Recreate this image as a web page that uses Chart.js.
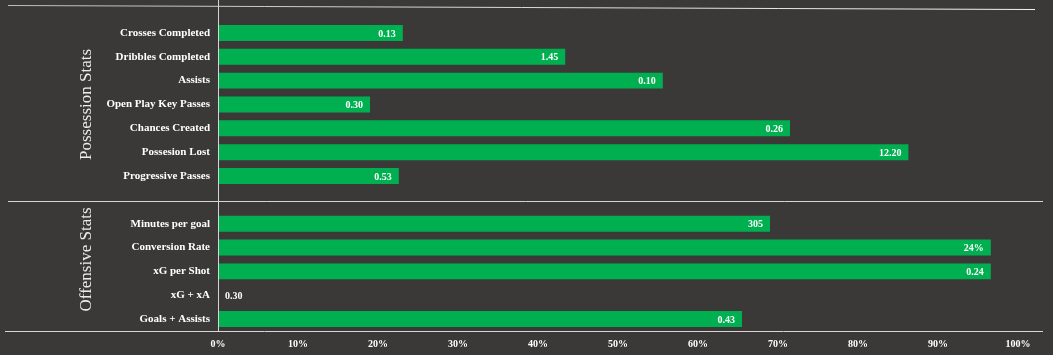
<!DOCTYPE html>
<html>
<head>
<meta charset="utf-8">
<script src="https://cdn.jsdelivr.net/npm/chart.js@4.4.0/dist/chart.umd.min.js"></script>
<style>
  html, body { margin: 0; padding: 0; background: #3b3938; }
  #wrap { width: 1053px; height: 355px; position: relative; }
</style>
</head>
<body>
<div id="wrap"><canvas id="c" width="1053" height="355"></canvas></div>
<script>
// ---- data ----
const categories = [
  "Crosses Completed", "Dribbles Completed", "Assists", "Open Play Key Passes",
  "Chances Created", "Possesion Lost", "Progressive Passes", "",
  "Minutes per goal", "Conversion Rate", "xG per Shot", "xG + xA", "Goals + Assists"
];
const barPercent = [23.1, 43.4, 55.6, 19.0, 71.5, 86.3, 22.6, null, 69.0, 96.6, 96.6, 0, 65.5];
const valueLabels = ["0.13", "1.45", "0.10", "0.30", "0.26", "12.20", "0.53", "", "305", "24%", "0.24", "0.30", "0.43"];
const groupNames = ["Possession Stats", "Offensive Stats"];
const groupCenters = [3, 9.5];      // category positions where the group titles sit
const separatorIndex = 7;           // empty category that holds the divider
const xTicks = [0, 10, 20, 30, 40, 50, 60, 70, 80, 90, 100];

const LINE_COLOR = "#d6d6d6";

const decor = {
  id: 'decor',
  afterDatasetsDraw(chart) {
    const ctx = chart.ctx;
    const ca = chart.chartArea;
    const y = chart.scales.y;
    const meta = chart.getDatasetMeta(0);
    ctx.save();
    // value labels
    ctx.font = "bold 10px 'Liberation Serif', serif";
    ctx.fillStyle = "#ffffff";
    ctx.textBaseline = "middle";
    meta.data.forEach((bar, i) => {
      const t = valueLabels[i];
      if (!t) return;
      if (barPercent[i] > 0) {
        ctx.textAlign = "right";
        ctx.fillText(t, bar.x - 7, bar.y + 1);
      } else {
        ctx.textAlign = "left";
        ctx.fillText(t, bar.x + 7, bar.y + 1);
      }
    });
    // lines
    ctx.strokeStyle = LINE_COLOR;
    ctx.lineWidth = 1;
    // vertical axis line
    ctx.beginPath();
    ctx.moveTo(ca.left + 0.5, 0);
    ctx.lineTo(ca.left + 0.5, ca.bottom);
    ctx.stroke();
    // top line
    const grad = ctx.createLinearGradient(8, 0, ca.right + 17, 0);
    grad.addColorStop(0, "#bdbdbd");
    grad.addColorStop(1, "#f4f4f4");
    ctx.strokeStyle = grad;
    ctx.beginPath();
    ctx.moveTo(8, ca.top - 15.5);
    ctx.lineTo(ca.right + 17, ca.top - 11.5);
    ctx.stroke();
    ctx.strokeStyle = LINE_COLOR;
    // middle separator
    const sy = Math.round(y.getPixelForValue(separatorIndex)) + 1.5;
    ctx.beginPath();
    ctx.moveTo(8, sy);
    ctx.lineTo(ca.right + 25, sy);
    ctx.stroke();
    // bottom line
    ctx.beginPath();
    ctx.moveTo(5, ca.bottom + 0.5);
    ctx.lineTo(ca.right + 25, ca.bottom + 0.5);
    ctx.stroke();
    // group titles
    ctx.font = "17px 'Liberation Serif', serif";
    ctx.fillStyle = "#ececec";
    ctx.textAlign = "center";
    ctx.textBaseline = "middle";
    groupNames.forEach((g, k) => {
      const gy = y.getPixelForValue(groupCenters[k]);
      ctx.save();
      ctx.translate(87, gy);
      ctx.rotate(-Math.PI / 2);
      ctx.fillText(g, 0, 0);
      ctx.restore();
    });
    ctx.restore();
  }
};

new Chart(document.getElementById('c'), {
  type: 'bar',
  data: {
    labels: categories,
    datasets: [{
      data: barPercent,
      backgroundColor: '#00b050',
      borderWidth: 0,
      barPercentage: 0.67,
      categoryPercentage: 1.0
    }]
  },
  options: {
    indexAxis: 'y',
    responsive: false,
    animation: false,
    layout: { padding: { left: 0, right: 35, top: 21, bottom: 0 } },
    plugins: { legend: { display: false }, tooltip: { enabled: false } },
    scales: {
      x: {
        min: 0, max: 100,
        afterBuildTicks(scale) { scale.ticks = xTicks.map(v => ({ value: v })); },
        afterFit(scale) { scale.height = 24; },
        grid: { display: false, drawTicks: false },
        border: { display: false },
        ticks: {
          color: '#ffffff',
          font: { family: "'Liberation Serif', serif", size: 10, weight: 'bold' },
          padding: 7,
          callback: v => v + '%'
        }
      },
      y: {
        afterFit(scale) { scale.width = 218; },
        grid: { display: false, drawTicks: false },
        border: { display: false },
        ticks: {
          color: '#ffffff',
          font: { family: "'Liberation Serif', serif", size: 11, weight: 'bold' },
          padding: 8,
          autoSkip: false
        }
      }
    }
  },
  plugins: [decor]
});
</script>
</body>
</html>
